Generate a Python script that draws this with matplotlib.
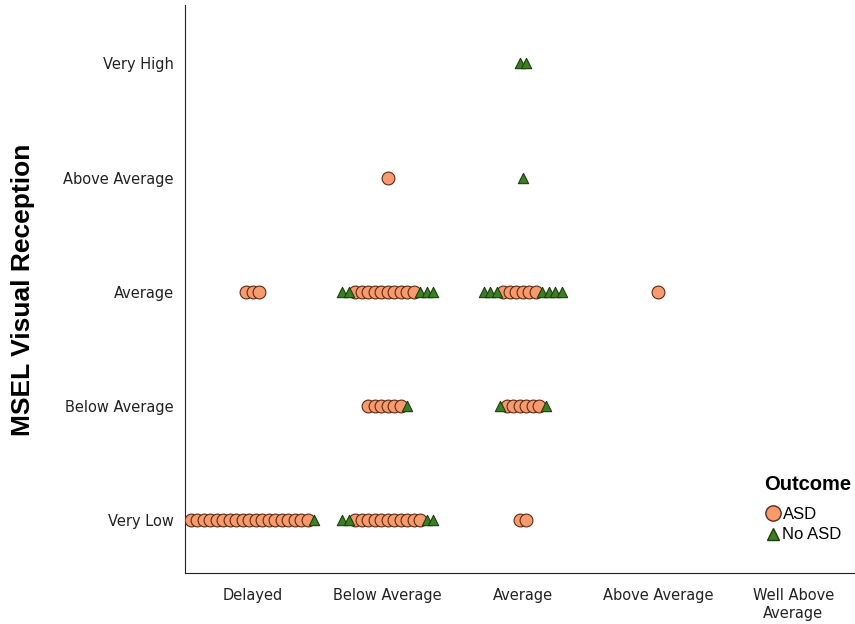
import matplotlib.pyplot as plt
import numpy as np
from matplotlib.lines import Line2D

x_labels = ['Delayed', 'Below Average', 'Average', 'Above Average', 'Well Above\nAverage']
y_labels = ['Very Low', 'Below Average', 'Average', 'Above Average', 'Very High']

# each cell: x category, y category, triangles left, circles, triangles right
cell_x = [1, 1, 2, 2, 2, 2, 3, 3, 3, 3, 3, 4]
cell_y = [1, 3, 1, 2, 3, 4, 1, 2, 3, 4, 5, 3]
tri_left = [0, 0, 2, 0, 2, 0, 0, 1, 3, 0, 0, 0]
asd_n = [19, 3, 11, 6, 10, 1, 2, 6, 6, 0, 0, 1]
tri_right = [1, 0, 2, 1, 3, 0, 0, 1, 4, 1, 2, 0]

circ_col = '#F79A6E'
tri_col = '#3A7F22'
step = 0.048

fig = plt.figure(figsize=(8.55, 6.24), dpi=100)
ax = fig.add_axes([0.2164, 0.0817, 0.784, 0.910])

for cx, cy, tl, na, tr in zip(cell_x, cell_y, tri_left, asd_n, tri_right):
    total = tl + na + tr
    offs = (np.arange(total) - (total - 1) / 2) * step
    kinds = ['t'] * tl + ['c'] * na + ['t'] * tr
    # circles first, triangles on top
    for o, k in zip(offs, kinds):
        if k == 'c':
            ax.scatter(cx + o, cy, s=85, marker='o', facecolor=circ_col,
                       edgecolor='#5a2a14', linewidth=0.8, zorder=3)
    for o, k in zip(offs, kinds):
        if k == 't':
            ax.scatter(cx + o, cy, s=55, marker='^', facecolor=tri_col,
                       edgecolor='#1d3d10', linewidth=0.8, zorder=4)

ax.set_xlim(0.5, 5.46)
ax.set_ylim(0.54, 5.51)
ax.set_xticks(range(1, 6))
ax.set_xticklabels(x_labels, fontsize=10.5, color='#222222')
ax.set_yticks(range(1, 6))
ax.set_yticklabels(y_labels, fontsize=10.5, color='#222222')
ax.tick_params(axis='x', length=0, pad=11)
ax.tick_params(axis='y', length=0, pad=8)
ax.spines['top'].set_visible(False)
ax.spines['right'].set_visible(False)
ax.spines['left'].set_color('#222222')
ax.spines['bottom'].set_color('#222222')

fig.text(0.027, 0.535, 'MSEL Visual Reception', rotation=90, fontsize=19,
         fontweight='heavy', ha='center', va='center', family='Liberation Sans')

handles = [Line2D([], [], marker='o', linestyle='none', markerfacecolor=circ_col,
                  markeredgecolor='#5a2a14', markersize=11, label='ASD'),
           Line2D([], [], marker='^', linestyle='none', markerfacecolor=tri_col,
                  markeredgecolor='#1d3d10', markersize=8, label='No ASD')]
leg = fig.legend(handles=handles, title='Outcome', loc='upper left',
                 bbox_to_anchor=(0.884, 0.252), frameon=False,
                 prop={'family': 'Liberation Sans', 'size': 12},
                 handletextpad=0.0, labelspacing=0.35, borderpad=0, handlelength=1.1)
leg.get_title().set_fontweight('bold')
leg.get_title().set_fontsize(14.5)
leg.get_title().set_family('Liberation Sans')
leg._legend_box.align = 'left'
leg._legend_box.sep = 9

fig.savefig('out.png', dpi=100)
